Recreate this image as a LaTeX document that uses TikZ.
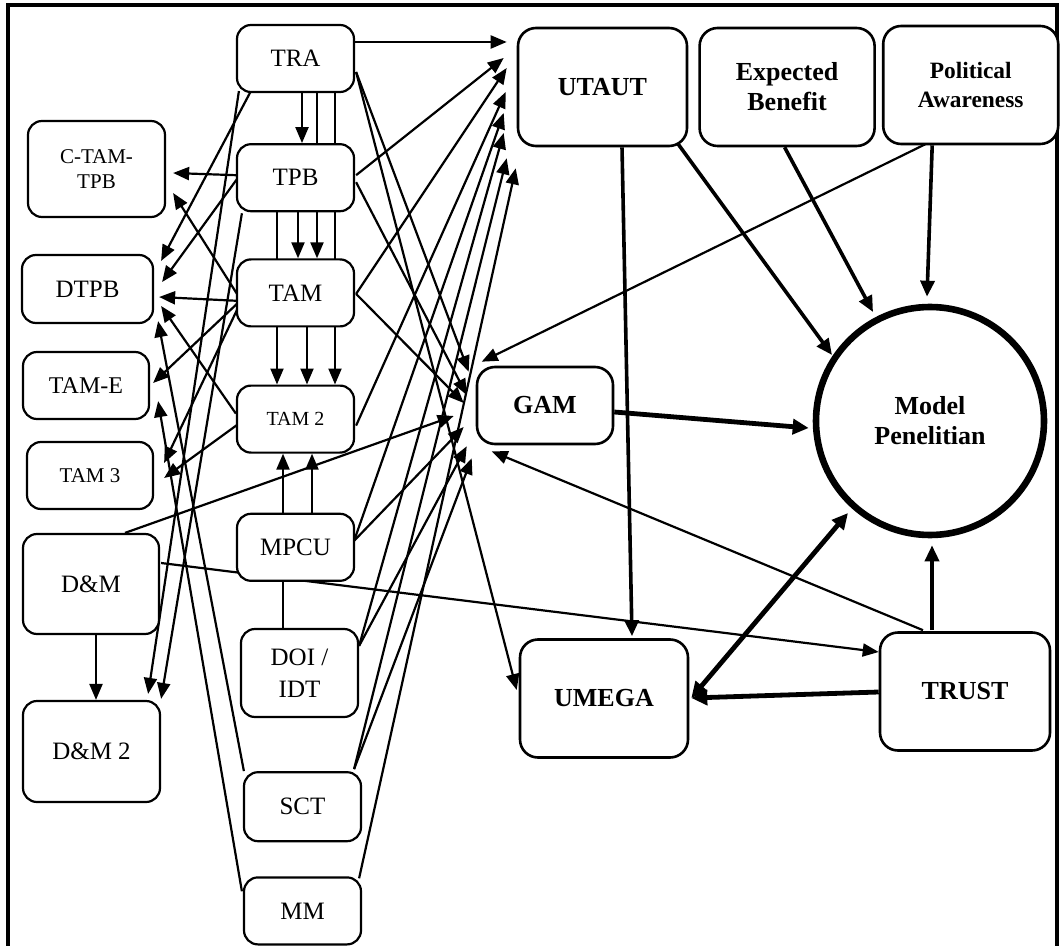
\documentclass[tikz,border=0pt]{standalone}
\usepackage{fontspec}
\setmainfont{Liberation Serif}
\usetikzlibrary{positioning,calc,arrows.meta,backgrounds}
\tikzset{Box/.style={%
    shape=rectangle,%
    draw=black,%
    fill=white,%
    rounded corners=7pt,%
    line width=1.1pt,%
    align=center,%
    inner sep=2pt,%
    minimum width=58.5pt,%
    minimum height=33.5pt,%
    font=\fontsize{12.5pt}{16pt}\selectfont,%
}}
\tikzset{BoldBox/.style={%
    Box,%
    rounded corners=9pt,%
    line width=1.3pt,%
    minimum height=59pt,%
    font=\bfseries\fontsize{13pt}{15pt}\selectfont,%
}}
\tikzset{ModelCircle/.style={%
    shape=circle,%
    draw=black,%
    fill=white,%
    line width=3.3pt,%
    minimum size=114pt,%
    inner sep=0pt,%
    align=center,%
    font=\bfseries\fontsize{13pt}{15pt}\selectfont,%
}}
\tikzset{ThinEdge/.style={%
    -{Triangle[length=8pt,width=6.5pt]},%
    line width=1.1pt,%
}}
\tikzset{MidEdge/.style={%
    -{Triangle[length=8pt,width=7pt]},%
    line width=1.8pt,%
}}
\tikzset{ThickEdge/.style={%
    -{Triangle[length=8pt,width=7.5pt]},%
    line width=2.4pt,%
}}
\tikzset{ThickBoth/.style={%
    {Triangle[length=8pt,width=7.5pt]}-{Triangle[length=8pt,width=7.5pt]},%
    line width=2.4pt,%
}}

\begin{document}
\begin{tikzpicture}[x=0.5pt,y=-0.5pt]
    \useasboundingbox (0,0) rectangle (1064,946);
    \draw[line width=2pt] (7.5,946) -- (7.5,5.5) -- (1057,5.5) -- (1057,946);

    % middle column
    \node[Box] (tra) at (295.5,58.5) {TRA};
    \node[Box, below=25pt of tra] (tpb) {TPB};
    \node[Box, below=23pt of tpb] (tam) {TAM};
    \node[Box, below=28.5pt of tam, font=\fontsize{10pt}{12pt}\selectfont] (tam2) {TAM 2};
    \node[Box, below=29.5pt of tam2] (mpcu) {MPCU};
    \node[Box, below=23pt of mpcu, xshift=2pt, minimum height=44pt] (doi) {DOI /\\IDT};
    \node[Box, below=26.5pt of doi, xshift=1.5pt, minimum height=34.5pt] (sct) {SCT};
    \node[Box, below=17pt of sct] (mm) {MM};

    % left column
    \node[Box, minimum width=68.5pt, minimum height=48pt, font=\fontsize{10.5pt}{12.5pt}\selectfont] (ctam) at (96.5,169) {C-TAM-\\TPB};
    \node[Box, minimum width=65.5pt, minimum height=34pt] (dtpb) at (87.5,289) {DTPB};
    \node[Box, minimum width=63pt, font=\fontsize{12pt}{14pt}\selectfont] (tame) at (86,385.5) {TAM-E};
    \node[Box, minimum width=63pt, font=\fontsize{10.5pt}{12pt}\selectfont] (tam3) at (90,475.5) {TAM 3};
    \node[Box, minimum width=68pt, minimum height=50pt] (dm) at (91,584) {D\&M};
    \node[Box, minimum width=68.5pt, minimum height=50.5pt] (dm2) at (91.5,751.5) {D\&M 2};

    % right part
    \node[BoldBox, minimum width=84.5pt] (utaut) at (602.5,87) {UTAUT};
    \node[BoldBox, minimum width=87.5pt, right=5pt of utaut] (eb) {Expected\\Benefit};
    \node[BoldBox, minimum width=87.5pt, right=3pt of eb, yshift=1pt, font=\bfseries\fontsize{11.7pt}{14pt}\selectfont] (pa) {Political\\Awareness};
    \node[BoldBox, minimum width=68pt, minimum height=38.5pt] (gam) at (545,405.5) {GAM};
    \node[ModelCircle] (model) at (930,421) {Model\\Penelitian};
    \node[BoldBox, minimum width=84pt] (umega) at (604,698.5) {UMEGA};
    \node[BoldBox, minimum width=85pt] (trust) at (965,691.5) {TRUST};

    \begin{scope}[on background layer]
    % down the middle column
    \path ($(tra.south)+(6.5,0)$) edge[ThinEdge] ($(tpb.north)+(6.5,0)$);
    \path ($(tra.south)+(21.5,0)$) edge[ThinEdge] ($(tam.north)+(21.5,0)$);
    \path ($(tra.south)+(39.5,0)$) edge[ThinEdge] ($(tam2.north)+(39.5,0)$);
    \path ($(tpb.south)+(2.5,0)$) edge[ThinEdge] ($(tam.north)+(2.5,0)$);
    \path ($(tpb.south)+(-18.5,0)$) edge[ThinEdge] ($(tam2.north)+(-18.5,0)$);
    \path ($(tam.south)+(11.5,0)$) edge[ThinEdge] ($(tam2.north)+(11.5,0)$);
    \path ($(mpcu.north)+(16.5,0)$) edge[ThinEdge] ($(tam2.south)+(16.5,0)$);
    \path ($(doi.north)+(-16.5,0)$) edge[ThinEdge] ($(tam2.south)+(-12.5,0)$);

    % to the left column
    \path ($(tpb.west)+(0,-2.5)$) edge[ThinEdge] ($(ctam.east)+(7,4)$);
    \path ($(tam.west)+(3,4)$) edge[ThinEdge] ($(ctam.east)+(7,24)$);
    \path ($(tra.south west)+(15,-2)$) edge[ThinEdge] ($(dtpb.north east)+(7,7)$);
    \path ($(tpb.west)+(1,1.5)$) edge[ThinEdge] ($(dtpb.east)+(8,-7)$);
    \path ($(tam.west)+(3,8)$) edge[ThinEdge] ($(dtpb.east)+(5,8)$);
    \path ($(tam2.west)+(0,-5.5)$) edge[ThinEdge] ($(dtpb.east)+(7,17)$);
    \path ($(tam.west)+(1,11)$) edge[ThinEdge] ($(tame.east)+(3,-2.5)$);
    \path ($(tam.west)+(3,13)$) edge[ThinEdge] ($(tam3.east)+(10,-12.5)$);
    \path ($(tam2.west)+(3,4.5)$) edge[ThinEdge] ($(tam3.east)+(10,2.5)$);
    \path ($(sct.north west)+(1,0)$) edge[ThinEdge] ($(dtpb.south east)+(4,-3)$);
    \path ($(mm.north west)+(-1,15)$) edge[ThinEdge] ($(tame.south east)+(8,-19)$);
    \path ($(tra.south west)+(3,-2)$) edge[ThinEdge] ($(dm2.north east)+(-13,-6)$);
    \path ($(tpb.south west)+(6,1)$) edge[ThinEdge] ($(dm2.north east)+(0,-1)$);
    \path ($(dm.south)+(5,0)$) edge[ThinEdge] ($(dm2.north)+(4.5,0)$);

    % into UTAUT
    \path ($(tra.east)+(0,-16.5)$) edge[ThinEdge] ($(utaut.west)+(-10,-45)$);
    \path ($(tpb.east)+(1,-2.5)$) edge[ThinEdge] ($(utaut.west)+(-13,-29)$);
    \path ($(tam.east)+(1,1)$) edge[ThinEdge] ($(utaut.west)+(-10,-19)$);
    \path ($(tam2.east)+(1,6.5)$) edge[ThinEdge] ($(utaut.west)+(-11,5)$);
    \path ($(mpcu.east)+(-1,-6.5)$) edge[ThinEdge] ($(utaut.west)+(-13,26)$);
    \path ($(doi.north east)+(0,18)$) edge[ThinEdge] ($(utaut.west)+(-13,46)$);
    \path ($(sct.north east)+(-8,-2)$) edge[ThinEdge] ($(utaut.south west)+(-10,11)$);
    \path ($(mm.north east)+(-3,2)$) edge[ThinEdge] ($(utaut.south west)+(-1,21)$);

    % into GAM and UMEGA
    \path ($(tra.east)+(1,13.5)$) edge[ThinEdge] ($(gam.north west)+(-7,6)$);
    \path ($(tpb.east)+(1,4.5)$) edge[ThinEdge] ($(gam.west)+(-9,-10.5)$);
    \path ($(tam.east)+(1,1)$) edge[ThinEdge] ($(gam.west)+(-12,-2.5)$);
    \path ($(dm.north)+(34,0)$) edge[ThinEdge] ($(gam.west)+(-22,10.5)$);
    \path ($(mpcu.east)+(-1,-6.5)$) edge[ThinEdge] ($(gam.west)+(-12,21.5)$);
    \path ($(doi.north east)+(0,18)$) edge[ThinEdge] ($(gam.south west)+(-9,1)$);
    \path ($(sct.north east)+(-8,-2)$) edge[ThinEdge] ($(gam.south west)+(-4,13)$);
    \path ($(tra.east)+(1,13.5)$) edge[ThinEdge] ($(umega.west)+(-2,-8.5)$);
    \path ($(dm.east)+(1,-21)$) edge[ThinEdge] ($(trust.west)+(0,-39.5)$);

    % right part
    \path ($(pa.south)+(-45.5,-1)$) edge[ThinEdge] ($(gam.north west)+(6,-4)$);
    \path ($(pa.south)+(-38.5,0)$) edge[MidEdge] ($(model.north)+(-3,-7)$);
    \path ($(eb.south)+(-2.5,0)$) edge[MidEdge] ($(model.center)+(-57,-109)$);
    \path ($(utaut.south east)+(-10,-3)$) edge[MidEdge] ($(model.center)+(-98,-66)$);
    \path ($(utaut.south)+(19.5,0)$) edge[MidEdge] ($(umega.north)+(28,-2)$);
    \path ($(gam.east)+(0,6.5)$) edge[ThickEdge] ($(model.west)+(-4,7)$);
    \path ($(trust.north)+(-33,-1)$) edge[MidEdge] ($(model.south)+(2,7)$);
    \path ($(trust.north)+(-42,-1)$) edge[ThinEdge] ($(gam.south west)+(16,6)$);
    \path ($(trust.west)+(0,0.5)$) edge[ThickEdge] ($(umega.east)+(2,-0.5)$);
    \path ($(umega.east)+(2,-0.5)$) edge[ThickBoth] ($(model.center)+(-82,92)$);
    \end{scope}
\end{tikzpicture}
\end{document}
